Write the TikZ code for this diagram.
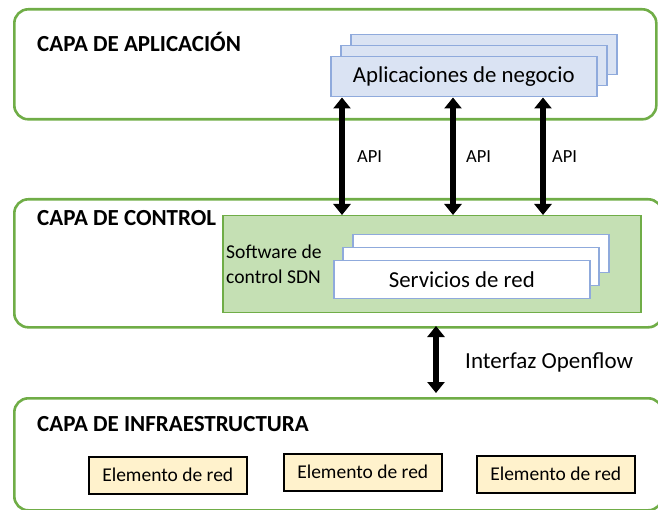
\documentclass[tikz,border=0pt]{standalone}
\usepackage{fontspec}
\setmainfont{Carlito}
\usetikzlibrary{arrows.meta,calc}
\definecolor{lgreen}{HTML}{70AD47}
\definecolor{gfill}{HTML}{C5E0B4}
\definecolor{bline}{HTML}{8FAADC}
\definecolor{bfill}{HTML}{DAE3F3}
\definecolor{yfill}{HTML}{FFF2CC}
\tikzset{
  layer/.style={draw=lgreen, line width=2.6pt, rounded corners=14pt, anchor=north west, inner sep=0pt},
  ttl/.style={anchor=west, font=\fontsize{23}{26}\selectfont\bfseries, inner sep=0pt},
  appbox/.style={draw=bline, fill=bfill, line width=1.5pt, anchor=north west, minimum width=266pt, minimum height=40pt, inner sep=0pt},
  srvbox/.style={draw=bline, fill=white, line width=1.5pt, anchor=north west, minimum width=256pt, minimum height=38pt, inner sep=0pt},
  elem/.style={draw=black, fill=yfill, line width=1.5pt, anchor=north west, minimum width=158pt, minimum height=37pt, inner sep=0pt, font=\fontsize{19.5}{22}\selectfont},
  dbl/.style={line width=5.5pt, {Triangle[width=17pt,length=11pt]}-{Triangle[width=17pt,length=11pt]}},
  lbl/.style={anchor=west, inner sep=0pt, font=\fontsize{18.5}{21}\selectfont},
}
\begin{document}
\begin{tikzpicture}[x=1pt,y=-1pt]
\useasboundingbox (0,0) rectangle (658,510);
% layers
\node[layer, minimum width=642pt, minimum height=110pt] (L1) at (13,8) {};
\node[layer, minimum width=648pt, minimum height=128pt] (L2) at (13,198) {};
\node[layer, minimum width=648pt, minimum height=112pt] (L3) at (13,397) {};
\node[ttl] (t1) at (37,42) {CAPA DE APLICACIÓN};
\node[ttl] (t2) at (37,218) {CAPA DE CONTROL};
\node[ttl] (t3) at (37,424) {CAPA DE INFRAESTRUCTURA};
% application stack
\node[appbox] (a3) at (350,34) {};
\node[appbox] (a2) at (340,45) {};
\node[appbox, font=\fontsize{22.8}{25}\selectfont] (app) at (330,56) {Aplicaciones de negocio};
% control inner
\node[draw=lgreen, fill=gfill, line width=1.5pt, anchor=north west, minimum width=418pt, minimum height=97pt, inner sep=0pt] (sdn) at (222,215) {};
\node[lbl, align=left, font=\fontsize{19.6}{25}\selectfont] (sw) at (226,264) {Software de\\control SDN};
\node[srvbox] (s3) at (352,234) {};
\node[srvbox] (s2) at (342,247) {};
\node[srvbox, font=\fontsize{22.8}{25}\selectfont] (srv) at (333,260) {Servicios de red};
% API arrows
\coordinate (x1) at (342,0);
\coordinate (x2) at (453,0);
\coordinate (x3) at (543,0);
\draw[dbl] (app.south -| x1) -- (sdn.north -| x1);
\draw[dbl] (app.south -| x2) -- (sdn.north -| x2);
\draw[dbl] (app.south -| x3) -- (sdn.north -| x3);
\node[lbl] (api1) at (357,157) {API};
\node[lbl] (api2) at (466,157) {API};
\node[lbl] (api3) at (552,157) {API};
% openflow
\coordinate (of1) at (436,326);
\coordinate (of2) at (436,393);
\draw[dbl] (of1) -- (of2);
\node[lbl, font=\fontsize{23}{25}\selectfont] (of) at (465,362) {Interfaz Openflow};
% elements
\node[elem] (e1) at (88,456) {Elemento de red};
\node[elem] (e2) at (283,453) {Elemento de red};
\node[elem] (e3) at (476,455) {Elemento de red};
\end{tikzpicture}
\end{document}
